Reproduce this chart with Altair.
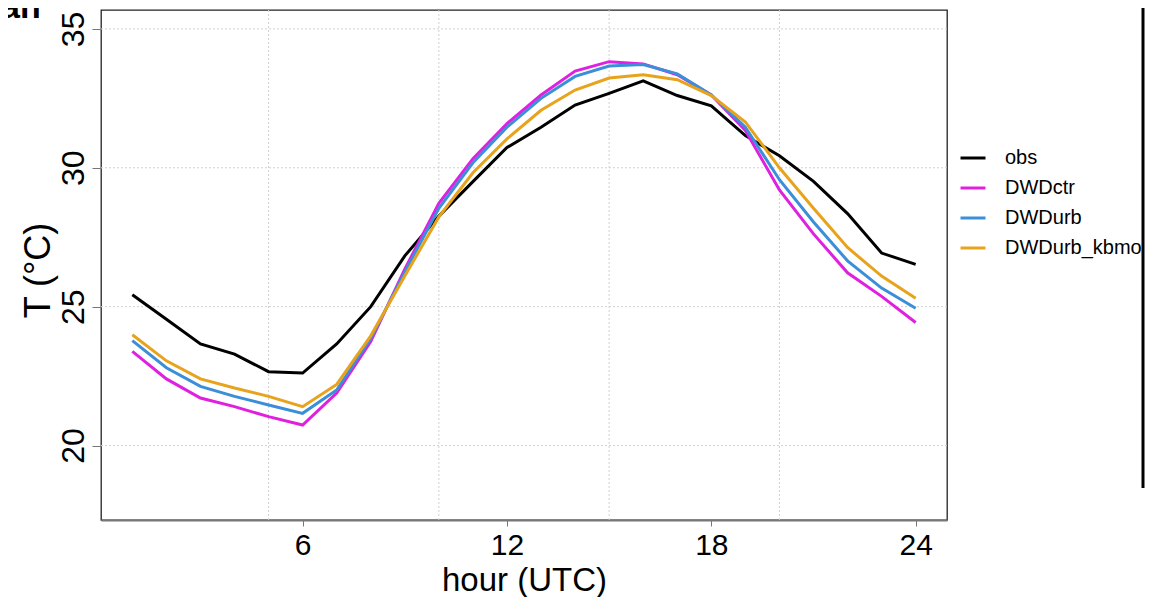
import altair as alt
import pandas as pd

# ---- data ----
hours = list(range(1, 25))
obs = [25.43, 24.55, 23.66, 23.29, 22.66, 22.61, 23.66, 25.00, 26.83, 28.26, 29.50, 30.73,
       31.46, 32.26, 32.68, 33.13, 32.60, 32.23, 31.16, 30.43, 29.51, 28.35, 26.93, 26.52]
dwdctr = [23.39, 22.40, 21.71, 21.40, 21.04, 20.74, 21.89, 23.75, 26.35, 28.72, 30.33, 31.59,
          32.62, 33.48, 33.82, 33.74, 33.35, 32.62, 31.34, 29.20, 27.62, 26.22, 25.37, 24.43]
dwdurb = [23.78, 22.80, 22.13, 21.77, 21.46, 21.16, 22.00, 23.85, 26.25, 28.54, 30.18, 31.46,
          32.50, 33.29, 33.66, 33.72, 33.38, 32.62, 31.46, 29.57, 28.05, 26.65, 25.67, 24.94]
dwdurb_kbmo = [23.99, 23.05, 22.40, 22.07, 21.77, 21.40, 22.20, 23.95, 26.10, 28.23, 29.82, 31.04,
               32.07, 32.80, 33.23, 33.35, 33.17, 32.60, 31.65, 30.00, 28.54, 27.13, 26.10, 25.30]

series_names = ["obs", "DWDctr", "DWDurb", "DWDurb_kbmo"]
series_colors = ["#000000", "#e020e0", "#3b8ed8", "#e8a31c"]

x_ticks = [6, 12, 18, 24]
y_ticks = [20, 25, 30, 35]
x_grid = [5, 10, 15, 20]
y_grid = [20, 25, 30, 35]
x_domain = [0.08, 24.92]
y_domain = [17.32, 35.68]

rows = []
for name, vals in zip(series_names, [obs, dwdctr, dwdurb, dwdurb_kbmo]):
    for h, v in zip(hours, vals):
        rows.append({"hour": h, "T": v, "series": name})
df = pd.DataFrame(rows)

FONT = "Liberation Sans"
W, H = 846, 510

xs = alt.Scale(domain=x_domain, nice=False, zero=False)
ys = alt.Scale(domain=y_domain, nice=False, zero=False)

x_axis = alt.Axis(values=x_ticks, title="hour (UTC)", grid=False, format="d",
                  domain=True, domainColor="#777777", domainWidth=2,
                  ticks=True, tickColor="#777777", tickSize=6, tickWidth=1,
                  labelFont=FONT, labelFontSize=30, labelColor="black",
                  labelBaseline="alphabetic", labelPadding=28, labelAlign="center",
                  titleFont=FONT, titleFontSize=33, titleFontWeight="normal",
                  titleColor="black", titleBaseline="alphabetic", titleY=70)
y_axis = alt.Axis(values=y_ticks, title="T (°C)", grid=False, format="d",
                  domain=False, ticks=True, tickColor="#777777", tickSize=9, tickWidth=1,
                  labelFont=FONT, labelFontSize=32, labelColor="black",
                  labelAngle=270, labelAlign="center", labelBaseline="alphabetic",
                  labelPadding=9,
                  titleFont=FONT, titleFontSize=36, titleFontWeight="normal",
                  titleColor="black", titleAngle=270, titleAlign="center",
                  titleBaseline="alphabetic", titleX=-52, titleY=260)

vgrid = alt.Chart(pd.DataFrame({"g": x_grid})).mark_rule(
    color="#d0d0d0", strokeDash=[2, 2], strokeWidth=1
).encode(x=alt.X("g:Q", scale=xs, axis=x_axis))

hgrid = alt.Chart(pd.DataFrame({"g": y_grid})).mark_rule(
    color="#d0d0d0", strokeDash=[2, 2], strokeWidth=1
).encode(y=alt.Y("g:Q", scale=ys, axis=y_axis))

lines = alt.Chart(df).mark_line(strokeWidth=3).encode(
    x=alt.X("hour:Q", scale=xs, axis=x_axis),
    y=alt.Y("T:Q", scale=ys, axis=y_axis),
    color=alt.Color("series:N",
                    scale=alt.Scale(domain=series_names, range=series_colors),
                    legend=alt.Legend(title=None, orient="none", legendX=858, legendY=134,
                                      symbolType="stroke", symbolSize=625,
                                      symbolStrokeWidth=3, labelFont=FONT,
                                      labelFontSize=20, labelColor="black",
                                      labelOffset=18, rowPadding=6, labelLimit=400)),
    detail="series:N",
)

one = pd.DataFrame({"a": [0]})
edge = alt.Chart(one).mark_rule(color="black", strokeWidth=3).encode(
    x=alt.value(1042), y=alt.value(-10), y2=alt.value(478)
)
frag = alt.Chart(one).mark_text(
    text="an", font=FONT, fontSize=34, fontWeight="bold", align="left",
    baseline="alphabetic", color="black"
).encode(x=alt.value(-100), y=alt.value(8))

chart = alt.layer(vgrid, hgrid, lines, edge, frag).properties(
    width=W, height=H,
    autosize=alt.AutoSizeParams(type="none"),
    padding={"left": 93, "top": 2, "right": 198, "bottom": 77},
    background="white",
).configure_view(stroke="#222222", strokeWidth=1.3)

chart.save("out.html", embed_options={"renderer": "svg", "actions": False})
